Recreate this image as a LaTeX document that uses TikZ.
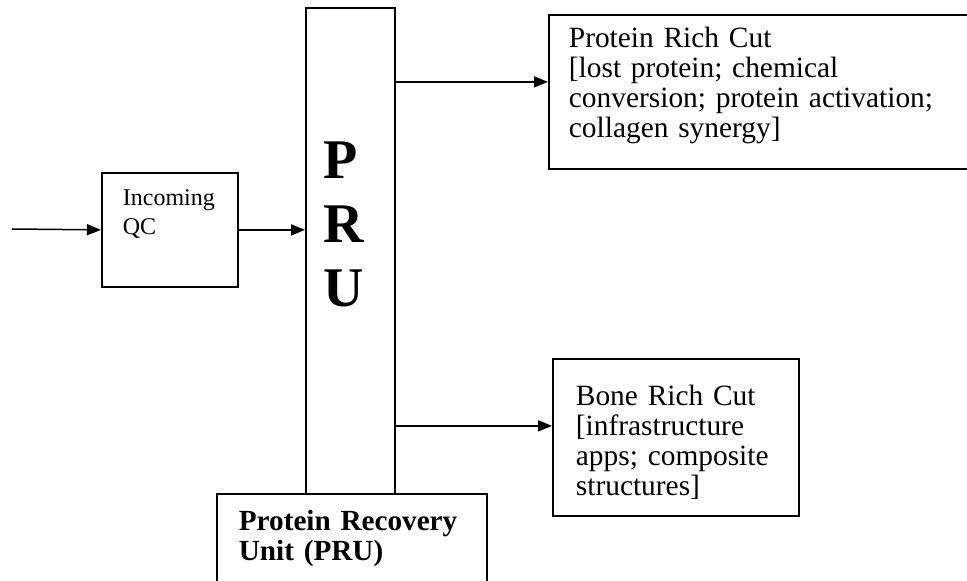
\documentclass[tikz,border=0pt]{standalone}
\usepackage{fontspec}
\setmainfont{Liberation Serif}
\usetikzlibrary{arrows.meta,positioning}

\begin{document}
\begin{tikzpicture}[
    x=0.5pt, y=-0.5pt,
    block/.style={rectangle, draw, line width=0.9pt, fill=white, anchor=north west,
                  align=left, inner ysep=2pt},
    cut/.style={block, font=\fontsize{14.7}{15}\selectfont},
    arrow/.style={-{Triangle[length=7pt,width=5.5pt]}, line width=0.75pt}
]
\useasboundingbox (0,0) rectangle (967,581);

\node[block, font=\fontsize{12}{14.5}\selectfont, text width=47pt, inner xsep=10.5pt,
      text height=14.5pt, text depth=38.5pt] (qc) at (101,172) {Incoming\\QC};
\node[block, font=\fontsize{28}{32}\selectfont\bfseries, text width=26.5pt, inner xsep=9pt,
      text height=83.5pt, text depth=155.5pt] (pru) at (305,7) {P\\R\\U};
\node[cut, text width=192pt, inner xsep=10pt, text height=14.5pt, text depth=58.5pt]
      (protein) at (548,14) {Protein Rich Cut\\{[}lost protein; chemical\\conversion; protein activation;\\collagen synergy]};
\node[cut, text width=100pt, inner xsep=11.5pt, text height=21.5pt, text depth=53pt]
      (bone) at (552,358) {Bone Rich Cut\\{[}infrastructure\\apps;~composite\\structures]};
\node[block, font=\fontsize{14.6}{15}\selectfont\bfseries, text width=113pt, inner xsep=11pt,
      text height=16.5pt, text depth=28pt] (unit) at (216,493) {Protein Recovery\\Unit (PRU)};

\coordinate (feed) at (12,229);

\draw[arrow] (feed) -- (qc.west);
\draw[arrow] (qc.east) -- (qc.east -| pru.west);
\draw[arrow] ([yshift=5pt]pru.east |- protein.west) -- ([yshift=5pt]protein.west);
\draw[arrow] ([yshift=5.75pt]pru.east |- bone.west) -- ([yshift=5.75pt]bone.west);

\end{tikzpicture}
\end{document}
